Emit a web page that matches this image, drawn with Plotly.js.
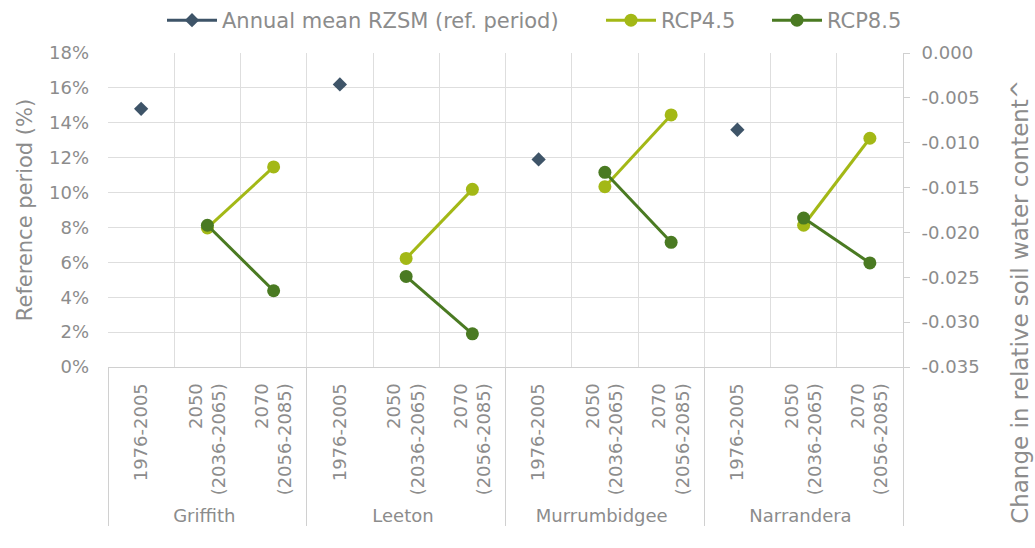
<!DOCTYPE html>
<html>
<head>
<meta charset="utf-8">
<script src="https://cdn.plot.ly/plotly-3.0.1.min.js"></script>
<style>html,body{margin:0;padding:0;background:#fff;}#chart{width:1035px;height:548px;}</style>
</head>
<body>
<div id="chart"></div>
<script>
// ---- data ----
var sites = ["Griffith", "Leeton", "Murrumbidgee", "Narrandera"];
var periods = ["1976-2005", "2050<br>(2036-2065)", "2070<br>(2056-2085)"];
// Annual mean root-zone soil moisture, reference period (fraction)
var refRZSM = [0.148, 0.162, 0.119, 0.136];
// Change in relative soil water content: [2050, 2070] per site
var rcp45_2050 = [-0.0195, -0.0229, -0.0149, -0.0192];
var rcp45_2070 = [-0.0127, -0.0152, -0.0069, -0.0095];
var rcp85_2050 = [-0.0192, -0.0249, -0.0133, -0.0184];
var rcp85_2070 = [-0.0265, -0.0313, -0.0211, -0.0234];
var rightTicks = [0, -0.005, -0.010, -0.015, -0.020, -0.025, -0.030, -0.035];
var rightTickText = ["0.000", "-0.005", "-0.010", "-0.015", "-0.020", "-0.025", "-0.030", "-0.035"];

// ---- build multicategory x and series ----
var xGroup = [], xSub = [], yRef = [], y45 = [], y85 = [];
sites.forEach(function (s, i) {
  periods.forEach(function (p, j) {
    xGroup.push(s); xSub.push(p);
    yRef.push(j === 0 ? refRZSM[i] : null);
    y45.push(j === 0 ? null : (j === 1 ? rcp45_2050[i] : rcp45_2070[i]));
    y85.push(j === 0 ? null : (j === 1 ? rcp85_2050[i] : rcp85_2070[i]));
  });
});
var nCats = xSub.length;

var FONT = "DejaVu Sans, sans-serif";
var GREY = "#8c8c8c";
var GRID = "#dedede";

var traces = [
  {x: [xGroup, xSub], y: yRef, name: "Annual mean RZSM (ref. period)", type: "scatter",
   mode: "lines+markers", connectgaps: false, legend: "legend",
   line: {color: "#3e5468", width: 3}, marker: {symbol: "diamond", size: 11, color: "#3e5468"}},
  {x: [xGroup, xSub], y: y45, name: "RCP4.5", type: "scatter", yaxis: "y2",
   mode: "lines+markers", connectgaps: false, legend: "legend2",
   line: {color: "#a3b816", width: 3}, marker: {symbol: "circle", size: 13, color: "#a3b816"}},
  {x: [xGroup, xSub], y: y85, name: "RCP8.5", type: "scatter", yaxis: "y2",
   mode: "lines+markers", connectgaps: false, legend: "legend3",
   line: {color: "#4a7a22", width: 3}, marker: {symbol: "circle", size: 13, color: "#4a7a22"}}
];

function legendAt(px) {
  return {orientation: "h", x: px / 1035, xref: "container", xanchor: "left",
          y: 1.0, yanchor: "top", yref: "container", font: {size: 21, color: GREY},
          itemwidth: 50, bgcolor: "rgba(0,0,0,0)"};
}

var layout = {
  width: 1035, height: 548,
  margin: {l: 108, r: 132, t: 53, b: 181},
  paper_bgcolor: "#fff", plot_bgcolor: "#fff",
  font: {family: FONT, color: GREY, size: 17},
  showlegend: true,
  legend: legendAt(162),
  legend2: legendAt(601),
  legend3: legendAt(767),
  xaxis: {type: "multicategory", range: [-0.5, nCats - 0.5], autorange: false,
          tickson: "boundaries", showgrid: true, gridcolor: GRID,
          gridwidth: 1, showline: true, linecolor: "#d0d0d0", ticks: "", tickangle: -90,
          showdividers: true, dividercolor: "#d0d0d0", dividerwidth: 1, automargin: false,
          ticklabelstandoff: 8,
          tickfont: {size: 18, color: GREY}, mirror: false},
  yaxis: {range: [0, 0.18], dtick: 0.02, tickformat: ".0%", showgrid: true, gridcolor: GRID,
          zeroline: false, showline: false, ticks: "", tickfont: {size: 18, color: GREY},
          automargin: false, ticklabelstandoff: 18,
          title: {text: "Reference period (%)", font: {size: 21, color: GREY}, standoff: 10}},
  yaxis2: {overlaying: "y", side: "right", range: [-0.035, 0], tickmode: "array",
           tickvals: rightTicks, ticktext: rightTickText, automargin: false,
           showgrid: false, zeroline: false, showline: true, linecolor: "#d0d0d0",
           ticklabelstandoff: 8,
           ticks: "outside", ticklen: 6, tickcolor: "#d0d0d0", tickfont: {size: 18, color: GREY}},
  annotations: [
    {text: "Change in relative soil water content^", xref: "paper", yref: "paper",
     x: 1.147, y: 0.207, xanchor: "center", yanchor: "middle", textangle: -90,
     showarrow: false, font: {size: 23, color: GREY}}
  ]
};

Plotly.newPlot("chart", traces, layout, {displayModeBar: false});
</script>
</body>
</html>
